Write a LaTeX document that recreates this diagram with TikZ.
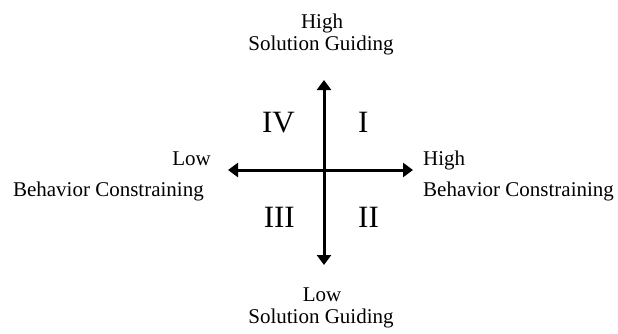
\documentclass[tikz,border=0pt]{standalone}
\usepackage{fontspec}
\setmainfont{Liberation Serif}
\usetikzlibrary{arrows.meta}
\begin{document}
\begin{tikzpicture}[x=1pt,y=1pt,
  lbl/.style={inner sep=0pt,font=\fontsize{21}{25}\selectfont},
  num/.style={inner sep=0pt,font=\fontsize{31}{36}\selectfont},
  axis/.style={line width=3pt,{Triangle[length=10pt,width=14pt]}-{Triangle[length=10pt,width=14pt]}}]
\useasboundingbox (0,0) rectangle (618,333);
\coordinate (top) at (324,253);
\coordinate (bottom) at (324,68);
\coordinate (left) at (228,163);
\coordinate (right) at (413,163);
\draw[axis] (bottom) -- (top);
\draw[axis] (left) -- (right);
% top labels
\node[lbl,anchor=base] (th) at (322,305) {High};
\node[lbl,anchor=base] (ts) at (321,283) {Solution Guiding};
% bottom labels
\node[lbl,anchor=base] (bl) at (322,32) {Low};
\node[lbl,anchor=base] (bs) at (321,10) {Solution Guiding};
% left labels
\node[lbl,anchor=base east] (ll) at (211,168) {Low};
\node[lbl,anchor=base east] (lb) at (204,137) {Behavior Constraining};
% right labels
\node[lbl,anchor=base west] (rh) at (423,168) {High};
\node[lbl,anchor=base west] (rb) at (423,137) {Behavior Constraining};
% quadrants
\node[num,anchor=base east] (q4) at (295,201) {IV};
\node[num,anchor=base west] (q1) at (358,201) {I};
\node[num,anchor=base east] (q3) at (295,106) {III};
\node[num,anchor=base west] (q2) at (358,106) {II};
\end{tikzpicture}
\end{document}
